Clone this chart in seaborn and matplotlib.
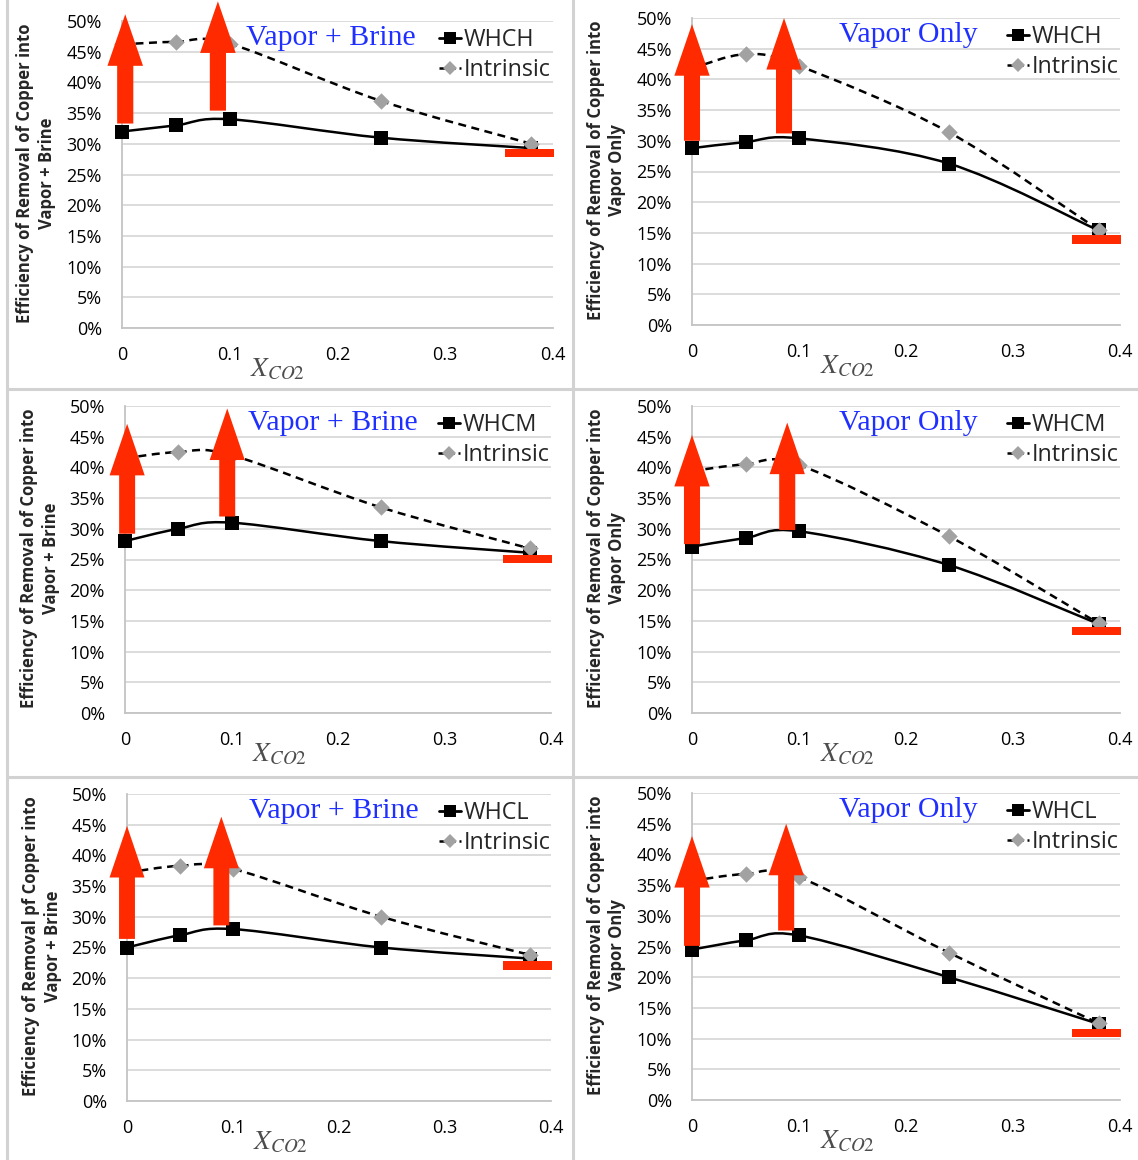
import numpy as np
import pandas as pd
import matplotlib
matplotlib.use("Agg")
import matplotlib.pyplot as plt
import seaborn as sns
from matplotlib.path import Path
from matplotlib.patches import PathPatch, Rectangle
from matplotlib.lines import Line2D

# ---------------------------------------------------------------- data
x_co2 = [0.0, 0.05, 0.10, 0.24, 0.38]

whch_vb = [32.0, 33.0, 34.0, 31.0, 29.3]
intr_h_vb = [46.2, 46.6, 46.3, 37.0, 30.0]
whch_vo = [28.8, 29.8, 30.4, 26.3, 15.4]
intr_h_vo = [41.8, 44.1, 42.2, 31.4, 15.5]

whcm_vb = [28.0, 30.0, 31.0, 28.0, 26.1]
intr_m_vb = [41.5, 42.5, 42.0, 33.5, 26.8]
whcm_vo = [27.1, 28.5, 29.6, 24.1, 14.5]
intr_m_vo = [39.4, 40.5, 40.4, 28.8, 14.6]

whcl_vb = [25.0, 27.0, 28.0, 25.0, 23.2]
intr_l_vb = [37.2, 38.3, 37.8, 30.0, 23.8]
whcl_vo = [24.5, 26.0, 26.8, 20.0, 12.4]
intr_l_vo = [35.7, 36.8, 36.3, 24.0, 12.5]

series_names = ["WHCH", "WHCH", "WHCM", "WHCM", "WHCL", "WHCL"]
panel_titles = ["Vapor + Brine", "Vapor Only"] * 3
ylabels = [
    "Efficiency of Removal of Copper into\nVapor + Brine",
    "Efficiency of Removal of Copper into\nVapor Only",
    "Efficiency of Removal of Copper into\nVapor + Brine",
    "Efficiency of Removal of Copper into\nVapor Only",
    "Efficiency of Removal pf Copper into\nVapor + Brine",
    "Efficiency of Removal of Copper into\nVapor Only",
]
well_series = [whch_vb, whch_vo, whcm_vb, whcm_vo, whcl_vb, whcl_vo]
intrinsic_series = [intr_h_vb, intr_h_vo, intr_m_vb, intr_m_vo, intr_l_vb, intr_l_vo]

# red "gain" arrows (x position, tail, tip) and the red level bar at X_CO2 = 0.38
arrow_x = [[0.003, 0.089], [0.0, 0.086], [0.002, 0.096],
           [0.0, 0.089], [0.0, 0.089], [0.0, 0.088]]
arrow_tail = [[33.3, 35.4], [30.0, 31.2], [29.2, 32.0],
              [27.5, 29.8], [26.4, 28.6], [25.1, 27.6]]
arrow_tip = [[51.1, 53.2], [49.0, 50.0], [47.1, 49.6],
             [45.3, 47.3], [44.8, 46.3], [43.0, 45.0]]
bar_level = [28.5, 13.9, 25.1, 13.35, 22.1, 10.9]

x_ticks = [0.0, 0.1, 0.2, 0.3, 0.4]
x_tick_labels = ["0", "0.1", "0.2", "0.3", "0.4"]
y_ticks = list(range(0, 51, 5))

# ---------------------------------------------------------------- style
sns.set_theme(style="white")
plt.rcParams["font.family"] = ["Open Sans", "DejaVu Sans"]
plt.rcParams["mathtext.fontset"] = "stix"

W, H = 1138, 1160
fig = plt.figure(figsize=(W / 100, H / 100), dpi=100)
fig.patch.set_facecolor("white")

# axes boxes in pixels: left, right, top, bottom
boxes = [
    (122, 553, 21, 328), (692, 1120, 18, 325),
    (125, 551, 406, 713), (692, 1120, 406, 713),
    (127, 551, 794, 1101), (692, 1120, 793, 1100),
]
title_x = [0.288, 0.343] * 3

RED = "#ff2a00"
BLUE = "#1f2fff"
GRID = "#d9d9d9"
AXIS = "#c4c4c4"
DIAMOND = "#a2a2a2"


def smooth_path(xs, ys):
    """Cubic Bezier path through the points (Catmull-Rom tangents)."""
    pts = np.column_stack([xs, ys]).astype(float)
    n = len(pts)
    verts = [pts[0]]
    codes = [Path.MOVETO]
    for i in range(n - 1):
        p0 = pts[i - 1] if i > 0 else pts[i]
        p1 = pts[i]
        p2 = pts[i + 1]
        p3 = pts[i + 2] if i + 2 < n else pts[i + 1]
        verts += [p1 + (p2 - p0) / 6.0, p2 - (p3 - p1) / 6.0, p2]
        codes += [Path.CURVE4] * 3
    return Path(verts, codes)


for k, (L, R, T, B) in enumerate(boxes):
    ax = fig.add_axes([L / W, 1 - B / H, (R - L) / W, (B - T) / H])
    ax.set_facecolor("white")

    df = pd.DataFrame({
        "x": x_co2 * 2,
        "y": well_series[k] + intrinsic_series[k],
        "series": [series_names[k]] * 5 + ["Intrinsic"] * 5,
    })

    # smoothed connecting curves
    ax.add_patch(PathPatch(smooth_path(x_co2, intrinsic_series[k]), fill=False,
                           edgecolor="black", lw=1.8, linestyle=(0, (3.2, 2.2)),
                           zorder=3, clip_on=False))
    ax.add_patch(PathPatch(smooth_path(x_co2, well_series[k]), fill=False,
                           edgecolor="black", lw=1.8, zorder=3, clip_on=False))

    # markers
    sns.scatterplot(data=df[df["series"] != "Intrinsic"], x="x", y="y", ax=ax,
                    marker="s", s=90, color="black", linewidth=0,
                    zorder=4, clip_on=False, legend=False)
    sns.scatterplot(data=df[df["series"] == "Intrinsic"], x="x", y="y", ax=ax,
                    marker="D", s=70, color=DIAMOND, linewidth=0,
                    zorder=5, clip_on=False, legend=False)

    # red arrows
    for ax_x, y0, y1 in zip(arrow_x[k], arrow_tail[k], arrow_tip[k]):
        ax.arrow(ax_x, y0, 0, y1 - y0, width=0.015, head_width=0.033,
                 head_length=8.4, length_includes_head=True,
                 facecolor=RED, edgecolor="none", zorder=6, clip_on=False)

    # red level bar
    ax.add_patch(Rectangle((0.355, bar_level[k] - 0.7), 0.046, 1.4,
                           facecolor=RED, edgecolor="none", zorder=6,
                           clip_on=False))

    # axes
    ax.set_xlim(0, 0.4)
    ax.set_ylim(0, 50)
    ax.set_xticks(x_ticks)
    ax.set_xticklabels(x_tick_labels)
    ax.set_yticks(y_ticks)
    ax.set_yticklabels([f"{v}%" for v in y_ticks])
    ax.set_xlabel("")
    ax.set_ylabel("")
    ax.yaxis.grid(True, color=GRID, lw=1.3)
    ax.xaxis.grid(False)
    ax.set_axisbelow(True)
    for side in ("top", "right"):
        ax.spines[side].set_visible(False)
    for side in ("left", "bottom"):
        ax.spines[side].set_color(AXIS)
        ax.spines[side].set_linewidth(1.3)
    ax.tick_params(axis="both", direction="out", length=4.5, width=1.2,
                   color=AXIS, labelsize=13, labelcolor="black")
    ax.tick_params(axis="x", pad=8.5)
    ax.tick_params(axis="y", pad=10)

    # title inside the plot
    ax.text(title_x[k], 0.922, panel_titles[k], transform=ax.transAxes,
            fontsize=21.5, color=BLUE, family=["Liberation Serif"],
            ha="left", va="baseline", zorder=7)

    # x label
    ax.text(0.298, -0.09, r"$X_{CO2}$", transform=ax.transAxes,
            fontsize=19.5, color="#4d4d4d", ha="left", va="top")

    # y label
    ax.text(-0.2, 0.505, ylabels[k], transform=ax.transAxes, rotation=90,
            ha="center", va="center", multialignment="center",
            fontsize=12, fontweight="bold", linespacing=1.25)

    # legend
    handles = [
        Line2D([], [], color="black", lw=2.0, marker="s", markersize=9,
               markeredgewidth=0),
        Line2D([], [], color="black", lw=1.8, linestyle=(0, (2.5, 1.5)),
               marker="D", markersize=7.5, markerfacecolor=DIAMOND,
               markeredgewidth=0),
    ]
    ax.legend(handles, [series_names[k], "Intrinsic"], loc="upper left",
              bbox_to_anchor=(0.735, 0.978), frameon=False, fontsize=16.8,
              handlelength=0.95, handletextpad=0.12, labelspacing=0.27,
              borderpad=0, borderaxespad=0)

# panel separators
SEP = "#d2d2d2"
fig.add_artist(Line2D([573 / W, 573 / W], [0, 1], transform=fig.transFigure,
                      color=SEP, lw=2.2))
fig.add_artist(Line2D([7 / W, 7 / W], [0, 1], transform=fig.transFigure,
                      color=SEP, lw=2.2))
for yy in (389, 777):
    fig.add_artist(Line2D([7 / W, 1], [1 - yy / H, 1 - yy / H],
                          transform=fig.transFigure, color=SEP, lw=2.2))

fig.savefig("out.png", dpi=100, facecolor="white")
